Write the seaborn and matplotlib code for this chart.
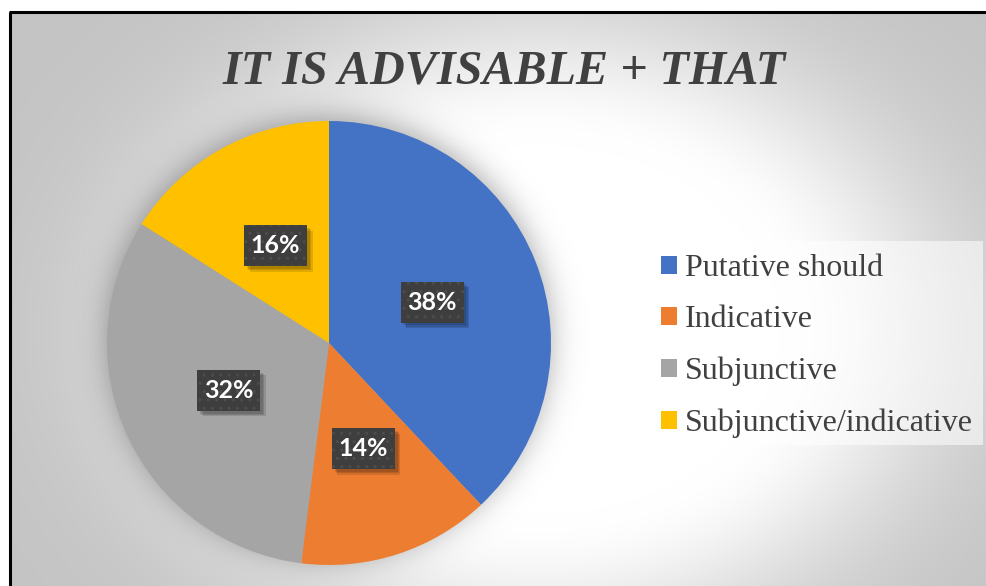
import numpy as np
import matplotlib
matplotlib.use("Agg")
import matplotlib.pyplot as plt
import matplotlib.patheffects as pe
from matplotlib.patches import Patch, Rectangle
import seaborn as sns

# Chart data
categories = ["Putative should", "Indicative", "Subjunctive", "Subjunctive/indicative"]
shares = [38, 14, 32, 16]
slice_colors = ["#4472C4", "#ED7D31", "#A5A5A5", "#FFC000"]
title_text = "IT IS ADVISABLE + THAT"

sns.set_theme(style="white")
palette = sns.color_palette(slice_colors)

W, H, DPI = 987, 586, 100
fig = plt.figure(figsize=(W / DPI, H / DPI), dpi=DPI)
fig.patch.set_facecolor("white")

# Radial grey backdrop inside the chart frame
bg = fig.add_axes([0, 0, 1, 1], zorder=-2)
yy, xx = np.mgrid[0:H, 0:W].astype(float)
d = np.hypot(xx - 540, (yy - 330) * 1.3)
g = (196 + 59 * np.exp(-(np.clip(d - 240, 0, None) / 175) ** 2)) / 255
img = np.dstack([g, g, g])
img[(xx < 10) | (yy < 12)] = 1.0
bg.imshow(img, extent=(0, W, H, 0), aspect="auto", interpolation="bilinear")
bg.plot([10, 10], [12, H + 5], color="black", lw=2.2, solid_capstyle="butt")
bg.plot([9, W + 5], [12, 12], color="black", lw=2.2, solid_capstyle="butt")
bg.set_xlim(0, W)
bg.set_ylim(H, 0)
bg.axis("off")

# Pie
ax = fig.add_axes([107 / W, (H - 343 - 222) / H, 444 / W, 444 / H])
ax.patch.set_alpha(0)
wedges, texts, autotexts = ax.pie(
    shares, colors=palette, startangle=90, counterclock=False,
    autopct="%.0f%%", pctdistance=0.5, wedgeprops=dict(linewidth=0),
)

# soft shadow around the pie
n = 400
s = np.linspace(-1.3, 1.3, n)
X, Y = np.meshgrid(s, s)
r = np.hypot(X, Y + 0.02)
shadow = np.zeros((n, n, 4))
shadow[..., 3] = 0.33 / (1 + np.exp((r - 1.0) / 0.04))
im = ax.imshow(shadow, extent=(-1.3, 1.3, -1.3, 1.3), zorder=0)
im.set_clip_on(False)
ax.set_xlim(-1, 1)
ax.set_ylim(-1, 1)
ax.set_aspect("equal")
ax.axis("off")

# dark percentage badges (63 x 41 px, 222 px per data unit)
bw, bh = 63 / 222, 41 / 222
soft_shadow = [pe.SimplePatchShadow(offset=(k, -k), alpha=0.12, shadow_rgbFace="black")
               for k in (4, 3, 2)] + [pe.Normal()]
for t in autotexts:
    x, y = t.get_position()
    base = Rectangle((x - bw / 2, y - bh / 2), bw, bh, facecolor="#3e3e3e",
                     edgecolor="none", linewidth=0, zorder=3)
    base.set_path_effects(soft_shadow)
    ax.add_patch(base)
    dots = Rectangle((x - bw / 2, y - bh / 2), bw, bh, facecolor="none",
                     edgecolor="#4d4d4d", linewidth=0, hatch="..", zorder=3.5)
    ax.add_patch(dots)
    t.set_zorder(4)
    t.set_color("white")
    t.set_fontsize(18)
    t.set_fontweight("bold")
    t.set_fontfamily("Lato")

# Legend panel
panel = Rectangle((647 / W, 1 - 445 / H), 336 / W, 204 / H, transform=fig.transFigure,
                  facecolor="white", alpha=0.55, edgecolor="none", zorder=-1)
fig.add_artist(panel)
handles = [Patch(facecolor=c, edgecolor="none") for c in palette]
fig.legend(handles, categories, loc="center left", bbox_to_anchor=(661 / W, 1 - 346 / H),
           frameon=False, prop=dict(family="Liberation Serif", size=23), labelcolor="#404040",
           handlelength=0.5, handleheight=0.5, handletextpad=0.25, labelspacing=0.70,
           borderpad=0, borderaxespad=0)

# Title
fig.text(504 / W, 1 - 83 / H, title_text, ha="center", va="baseline",
         fontfamily="Liberation Serif", fontsize=34.7, fontweight="bold",
         fontstyle="italic", color="#404040")

fig.savefig("out.png", dpi=DPI)
